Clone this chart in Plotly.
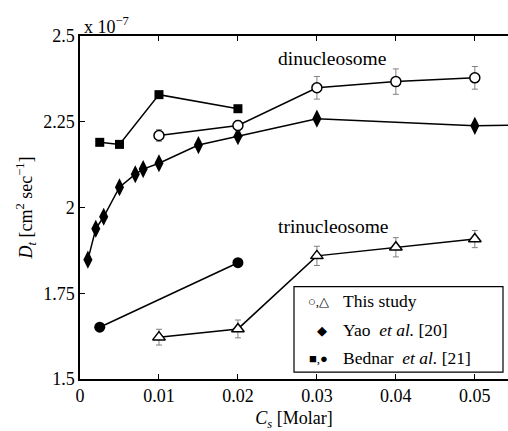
import plotly.graph_objects as go

# values in units of 1e-7 cm^2/sec
cs_di = [0.01, 0.02, 0.03, 0.04, 0.05]
dt_di = [2.21, 2.239, 2.349, 2.367, 2.378]
err_di = [0.017, 0.015, 0.033, 0.037, 0.033]

cs_tri = [0.01, 0.02, 0.03, 0.04, 0.05]
dt_tri = [1.622, 1.646, 1.859, 1.884, 1.908]
err_tri = [0.023, 0.026, 0.028, 0.028, 0.025]

cs_yao = [0.001, 0.002, 0.003, 0.005, 0.007, 0.008, 0.01, 0.015, 0.02, 0.03, 0.05, 0.055]
dt_yao = [1.848, 1.938, 1.973, 2.059, 2.097, 2.112, 2.129, 2.182, 2.208, 2.259, 2.238, 2.24]

cs_bed_di = [0.0025, 0.005, 0.01, 0.02]
dt_bed_di = [2.19, 2.184, 2.329, 2.288]

cs_bed_tri = [0.0025, 0.02]
dt_bed_tri = [1.651, 1.839]

xticks = [0, 0.01, 0.02, 0.03, 0.04, 0.05]
xticklabels = ["0", "0.01", "0.02", "0.03", "0.04", "0.05"]
yticks = [1.5, 1.75, 2.0, 2.25, 2.5]
yticklabels = ["1.5", "1.75", "2", "2.25", "2.5"]

FONT = "serif"
fig = go.Figure()
line = dict(color="black", width=1.5)
gray = "#808080"

fig.add_trace(go.Scatter(x=cs_yao, y=dt_yao, mode="lines+markers", line=line,
                         marker=dict(symbol="diamond-tall", size=13, color="black")))
fig.add_trace(go.Scatter(x=cs_bed_di, y=dt_bed_di, mode="lines+markers", line=line,
                         marker=dict(symbol="square", size=9, color="black")))
fig.add_trace(go.Scatter(x=cs_bed_tri, y=dt_bed_tri, mode="lines+markers", line=line,
                         marker=dict(symbol="circle", size=11, color="black")))
fig.add_trace(go.Scatter(x=cs_di, y=dt_di, mode="lines+markers", line=line,
                         error_y=dict(type="data", array=err_di, color=gray, thickness=1, width=3),
                         marker=dict(symbol="circle", size=10, color="white",
                                     line=dict(color="black", width=1.5))))
fig.add_trace(go.Scatter(x=cs_tri, y=dt_tri, mode="lines+markers", line=line,
                         error_y=dict(type="data", array=err_tri, color=gray, thickness=1, width=3),
                         marker=dict(symbol="triangle-up", size=11, color="white",
                                     line=dict(color="black", width=1.5))))

L, R, T, B = 80, 0, 36, 50
W, H = 508, 431
pw, ph = W - L - R, H - T - B

def px(x):
    return (x - L) / pw

def py(y):
    return (H - B - y) / ph

ann = []
ann.append(dict(x=px(332), y=py(59), text="dinucleosome", size=19.5))
ann.append(dict(x=px(333), y=py(228), text="trinucleosome", size=19.5))
ann.append(dict(x=px(82), y=py(25), text="x 10<sup>−7</sup>", xanchor="left", size=18))
ann.append(dict(x=px(341), y=py(303), text="This study", xanchor="left", size=17.5))
ann.append(dict(x=px(341), y=py(332), text="Yao  <i>et al.</i> [20]", xanchor="left", size=17.5))
ann.append(dict(x=px(341), y=py(360), text="Bednar  <i>et al.</i> [21]", xanchor="left", size=17.5))
ann.append(dict(x=px(318), y=py(303), text="○,△", size=13))
ann.append(dict(x=px(322), y=py(332), text="◆", size=13))
ann.append(dict(x=px(318), y=py(360), text="■,●", size=13))

annotations = []
for a in ann:
    s = a.pop("size")
    d = dict(xref="paper", yref="paper", showarrow=False, yanchor="middle",
             font=dict(size=s, family=FONT, color="black"))
    d.update(a)
    annotations.append(d)

fig.update_layout(
    width=W, height=H,
    margin=dict(l=L, r=R, t=T, b=B),
    paper_bgcolor="white", plot_bgcolor="white",
    showlegend=False,
    font=dict(family=FONT, size=18, color="black"),
    annotations=annotations,
    shapes=[dict(type="rect", xref="paper", yref="paper",
                 x0=px(294), x1=px(503), y0=py(374), y1=py(288),
                 line=dict(color="black", width=1.2), fillcolor="white", layer="above")],
    xaxis=dict(range=[0, 0.0542], tickvals=xticks, ticktext=xticklabels,
               showline=True, linecolor="black", linewidth=1.5, mirror="ticks",
               ticks="inside", ticklen=5, tickcolor="black", showgrid=False, zeroline=False,
               tickfont=dict(family=FONT, size=18, color="black"),
               title=dict(text="<i>C</i><sub><i>s</i></sub> [Molar]", standoff=12,
                          font=dict(size=18, family=FONT, color="black"))),
    yaxis=dict(range=[1.5, 2.5], tickvals=yticks, ticktext=yticklabels,
               showline=True, linecolor="black", linewidth=1.5,
               ticks="inside", ticklen=5, tickcolor="black", showgrid=False, zeroline=False,
               tickfont=dict(family=FONT, size=18, color="black"),
               title=dict(text="<i>D</i><sub><i>t</i></sub> [cm<sup>2</sup> sec<sup>−1</sup>]",
                          standoff=6, font=dict(size=18, family=FONT, color="black"))),
)

fig.write_html("out.html")
